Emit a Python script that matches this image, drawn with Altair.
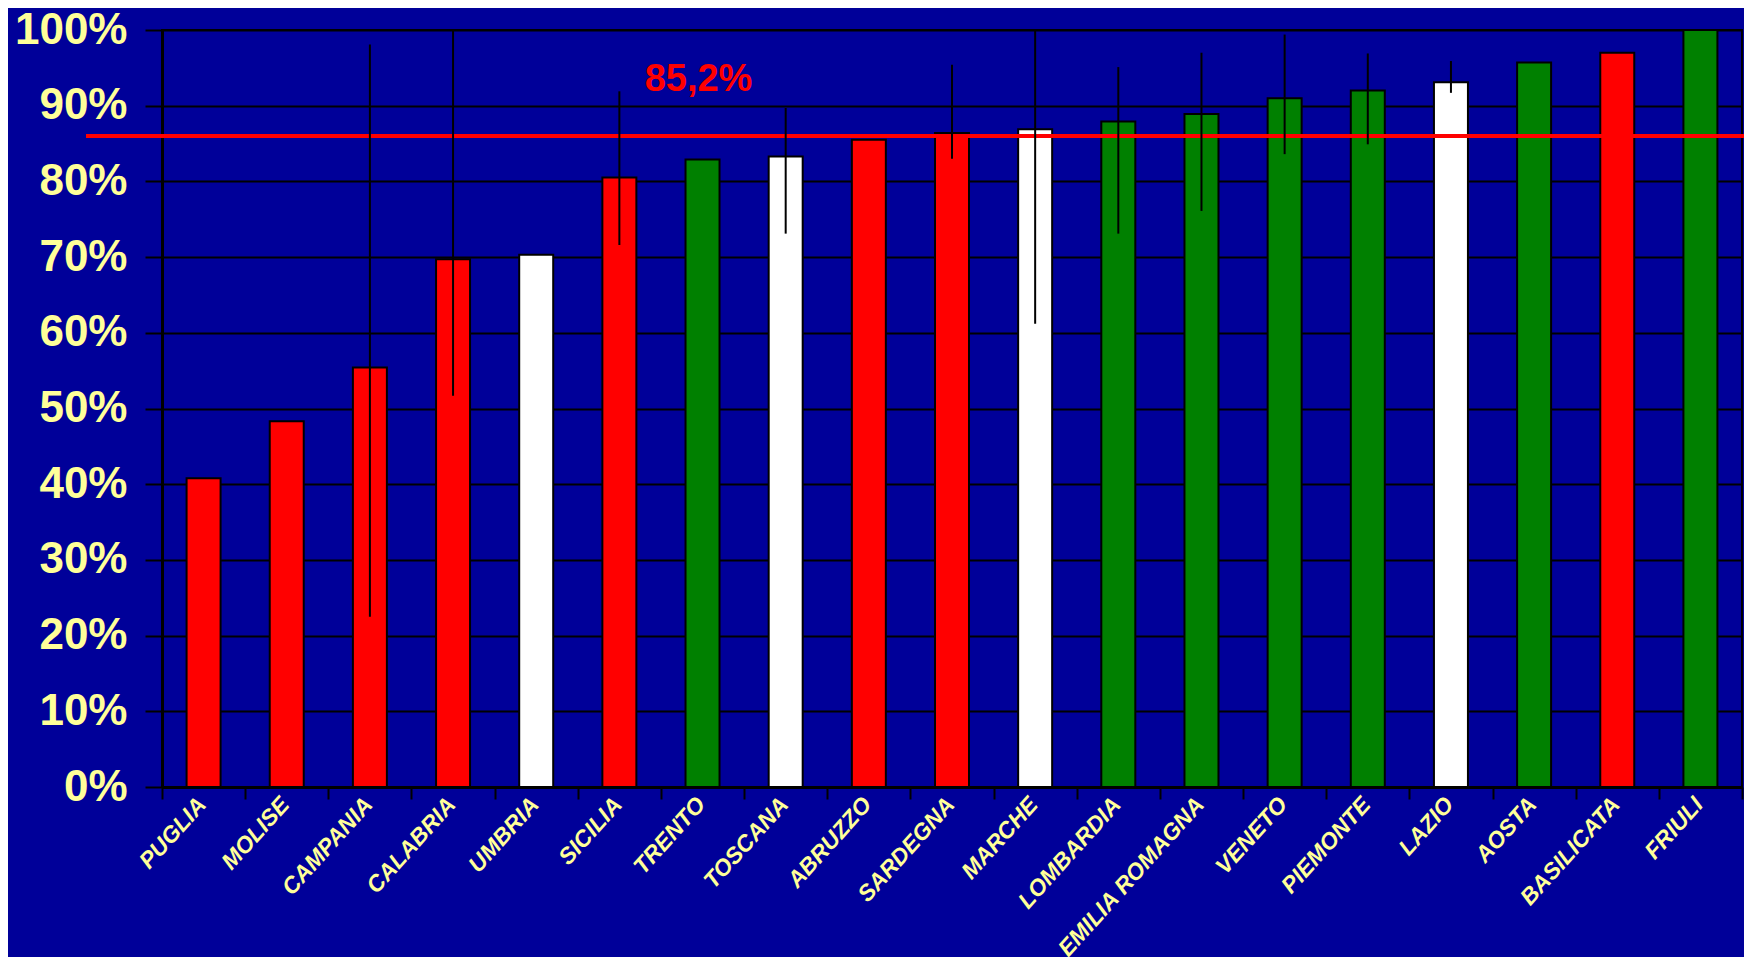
import altair as alt
import pandas as pd

regions = ["PUGLIA", "MOLISE", "CAMPANIA", "CALABRIA", "UMBRIA", "SICILIA", "TRENTO",
           "TOSCANA", "ABRUZZO", "SARDEGNA", "MARCHE", "LOMBARDIA", "EMILIA ROMAGNA",
           "VENETO", "PIEMONTE", "LAZIO", "AOSTA", "BASILICATA", "FRIULI"]
values = [40.8, 48.3, 55.4, 69.7, 70.3, 80.5, 82.9, 83.3, 85.5, 86.4, 86.9, 87.9, 88.9,
          91.0, 92.0, 93.1, 95.7, 97.0, 100.0]
groups = ["rosso", "rosso", "rosso", "rosso", "bianco", "rosso", "verde", "bianco", "rosso",
          "rosso", "bianco", "verde", "verde", "verde", "verde", "bianco", "verde", "rosso",
          "verde"]

err_regions = ["CAMPANIA", "CALABRIA", "SICILIA", "TOSCANA", "SARDEGNA", "MARCHE",
               "LOMBARDIA", "EMILIA ROMAGNA", "VENETO", "PIEMONTE", "LAZIO"]
err_low = [22.5, 51.7, 71.6, 73.1, 83.0, 61.2, 73.1, 76.1, 83.6, 84.9, 91.7]
err_high = [98.1, 100.0, 91.9, 89.7, 95.4, 100.0, 95.1, 97.0, 99.4, 96.9, 95.9]

ref_value = 86.0
ref_label = "85,2%"
y_ticks = [0, 10, 20, 30, 40, 50, 60, 70, 80, 90, 100]

bars_df = pd.DataFrame({"region": regions, "value": values, "group": groups})
err_df = pd.DataFrame({"region": err_regions, "low": err_low, "high": err_high})
ref_df = pd.DataFrame({"v": [ref_value]})
lab_df = pd.DataFrame({"region": ["TRENTO"], "v": [93.4], "t": [ref_label]})

W, H = 1580, 757
yellow = "#FFFF99"
bg = "#000099"

x_enc = alt.X("region:N", sort=regions, title=None,
              scale=alt.Scale(paddingInner=0, paddingOuter=0),
              axis=alt.Axis(labelAngle=-48, labelAlign="right", labelBaseline="top",
                            labelColor=yellow, labelFont="Liberation Sans",
                            labelFontSize=23, labelFontWeight="bold",
                            labelFontStyle="italic", labelPadding=-6, labelOffset=-10,
                            labelLimit=0,
                            tickBand="extent", tickSize=12, tickColor="black",
                            tickWidth=2, domainColor="black", domainWidth=3,
                            grid=False, labelOverlap=False))
y_scale = alt.Scale(domain=[0, 100], nice=False)

bars = alt.Chart(bars_df).mark_bar(size=34, stroke="black", strokeWidth=2).encode(
    x=x_enc,
    y=alt.Y("value:Q", scale=y_scale, title=None,
            axis=alt.Axis(values=y_ticks, labelExpr="datum.value + '%'",
                          labelColor=yellow, labelFont="Liberation Sans",
                          labelFontSize=44, labelFontWeight="bold", labelPadding=18,
                          tickSize=17, tickColor="black", tickWidth=2,
                          domainColor="black", domainWidth=3,
                          grid=True, gridColor="black", gridWidth=2, gridOpacity=1)),
    color=alt.Color("group:N", legend=None,
                    scale=alt.Scale(domain=["rosso", "bianco", "verde"],
                                    range=["#FF0000", "#FFFFFF", "#008000"])),
)

ref_line = alt.Chart(ref_df).mark_rule(color="#FF0000", strokeWidth=4).encode(
    y=alt.Y("v:Q", scale=y_scale),
    x=alt.value(-76),
    x2=alt.value(W + 12),
)

errs = alt.Chart(err_df).mark_rule(color="black", strokeWidth=2).encode(
    x=alt.X("region:N", sort=regions),
    y=alt.Y("low:Q", scale=y_scale),
    y2="high:Q",
)

label = alt.Chart(lab_df).mark_text(color="#FF0000", font="Liberation Sans",
                                    fontSize=38, fontWeight="bold", align="center",
                                    baseline="middle", dx=-4).encode(
    x=alt.X("region:N", sort=regions),
    y=alt.Y("v:Q", scale=y_scale),
    text="t:N",
)

chart = alt.layer(bars, ref_line, errs, label).properties(
    width=W, height=H,
    padding={"left": 154, "top": 22, "right": 2, "bottom": 170},
    autosize=alt.AutoSizeParams(type="none"),
    background=bg,
).configure_view(stroke="black", strokeWidth=2)

chart.save("out.html", embed_options={"renderer": "svg", "actions": False})
